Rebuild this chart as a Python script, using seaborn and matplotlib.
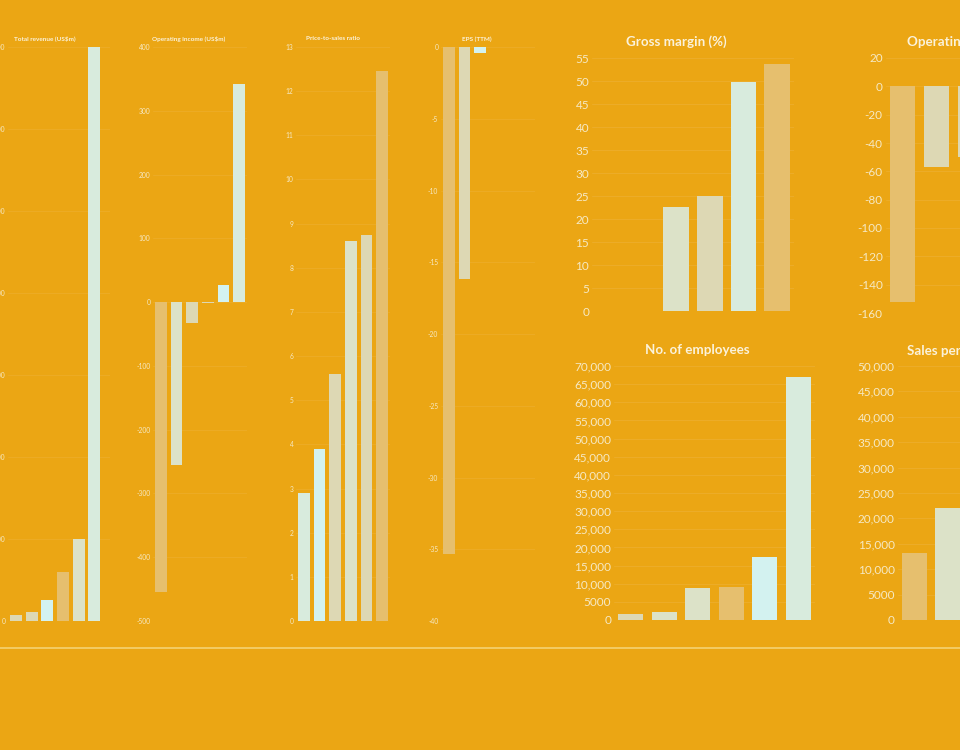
import numpy as np
import pandas as pd
import seaborn as sns
import matplotlib.pyplot as plt
from matplotlib.lines import Line2D
from matplotlib.ticker import FuncFormatter

# six companies per chart, ranked left to right
slots = ["#1", "#2", "#3", "#4", "#5", "#6"]

revenue = [15, 22, 51, 120, 200, 1400]
op_income = [-455, -255, -33, -2, 27, 342]
ps_ratio = [2.9, 3.9, 5.6, 8.6, 8.75, 12.45]
eps = [-35.3, -16.2, -0.4, np.nan, np.nan, np.nan]
gross_margin = [np.nan, np.nan, 22.7, 24.9, 49.8, 53.6]
op_margin = [-152, -57, -50, np.nan, np.nan, np.nan]
employees = [1550, 2300, 8900, 9150, 17400, 67100]
sales_per_emp = [13200, 22000, np.nan, np.nan, np.nan, np.nan]

BG = "#EBA614"
TXT = "#F6E9C4"
TITLE = "#FBF2DA"
GRID = "#EDAE2C"
MINT = "#D8EBDD"
CYAN = "#D3F2F0"
BEIGE = "#DDD8B4"
PALE = "#DCE2C8"
TAN = "#E6BF6E"

sns.set_theme(style="white")
plt.rcParams["font.family"] = ["Lato", "DejaVu Sans"]

W, H = 960, 750
fig = plt.figure(figsize=(W / 100, H / 100), dpi=100, facecolor=BG)


def px_axes(l, t, r, b):
    ax = fig.add_axes([l / W, 1 - b / H, (r - l) / W, (b - t) / H])
    ax.set_facecolor(BG)
    return ax


def fmt_big(v, pos):
    v = int(round(v))
    if abs(v) >= 10000:
        return f"{v:,}"
    return str(v)


def draw(ax, values, colors, ylim, step, size, fmt=None, gridw=0.6):
    df = pd.DataFrame({"slot": slots, "value": values}).dropna()
    pal = dict(zip(df["slot"], colors))
    sns.barplot(data=df, x="slot", y="value", hue="slot", palette=pal,
                order=slots, hue_order=list(df["slot"]), legend=False,
                width=0.76, saturation=1, errorbar=None, linewidth=0, ax=ax)
    ax.set_xlim(-0.5, 5.5)
    ax.set_ylim(*ylim)
    ax.set_yticks(np.arange(ylim[0], ylim[1] + step / 2, step))
    if fmt:
        ax.yaxis.set_major_formatter(FuncFormatter(fmt))
    else:
        ax.yaxis.set_major_formatter(FuncFormatter(lambda v, p: f"{v:g}"))
    ax.set_xticks([])
    ax.set_xlabel("")
    ax.set_ylabel("")
    ax.tick_params(axis="y", length=0, pad=2, labelsize=size, labelcolor=TXT)
    ax.yaxis.grid(True, color=GRID, lw=gridw)
    ax.set_axisbelow(True)
    for s in ax.spines.values():
        s.set_visible(False)


# small panels on the left
ax1 = px_axes(8, 47, 110, 621)
draw(ax1, revenue, [BEIGE, BEIGE, CYAN, TAN, PALE, MINT], (0, 1400), 200, 4.8, gridw=0.5)
ax1.set_xlim(-0.5, 6.0)
ax2 = px_axes(153, 47, 247, 621)
draw(ax2, op_income, [TAN, PALE, BEIGE, BEIGE, CYAN, MINT], (-500, 400), 100, 4.8, gridw=0.5)
ax3 = px_axes(296, 47, 390, 621)
draw(ax3, ps_ratio, [MINT, CYAN, BEIGE, PALE, BEIGE, TAN], (0, 13), 1, 4.8, gridw=0.5)
ax4 = px_axes(441, 47, 535, 621)
draw(ax4, eps, [TAN, BEIGE, CYAN], (-40, 0), 5, 4.8, gridw=0.5)

small_titles = [("Total revenue (US$m)", 44.5), ("Operating income (US$m)", 188.5),
                ("Price-to-sales ratio", 332.5), ("EPS (TTM)", 476.5)]
for t, x in small_titles:
    fig.text(x / W, 1 - 39 / H, t, ha="center", va="center", fontsize=4.6,
             fontweight="bold", color=TITLE)

# larger panels on the right
ax5 = px_axes(592, 58, 794, 311)
draw(ax5, gross_margin, [PALE, BEIGE, MINT, TAN], (0, 55), 5, 8.5, fmt_big)
ax6 = px_axes(885.5, 58, 1089.5, 313)
draw(ax6, op_margin, [TAN, BEIGE, BEIGE], (-160, 20), 20, 8.5, fmt_big)
ax7 = px_axes(614, 366, 815, 620)
draw(ax7, employees, [BEIGE, PALE, PALE, TAN, CYAN, MINT], (0, 70000), 5000, 8.5, fmt_big)
ax8 = px_axes(897.5, 366, 1099, 620)
draw(ax8, sales_per_emp, [TAN, PALE], (0, 50000), 5000, 8.5, fmt_big)

fig.text(676 / W, 1 - 42 / H, "Gross margin (%)", ha="center", va="center",
         fontsize=9.6, fontweight="bold", color=TITLE)
fig.text(907 / W, 1 - 42 / H, "Operating margin (%)", ha="left", va="center",
         fontsize=9.6, fontweight="bold", color=TITLE)
fig.text(697 / W, 1 - 350 / H, "No. of employees", ha="center", va="center",
         fontsize=9.6, fontweight="bold", color=TITLE)
fig.text(907 / W, 1 - 350 / H, "Sales per employee (US$)", ha="left", va="center",
         fontsize=9.6, fontweight="bold", color=TITLE)

fig.add_artist(Line2D([0, 1], [1 - 648 / H] * 2, transform=fig.transFigure,
                      color="#F3CE6C", lw=1.3))

fig.savefig("out.png", dpi=100, facecolor=BG)
